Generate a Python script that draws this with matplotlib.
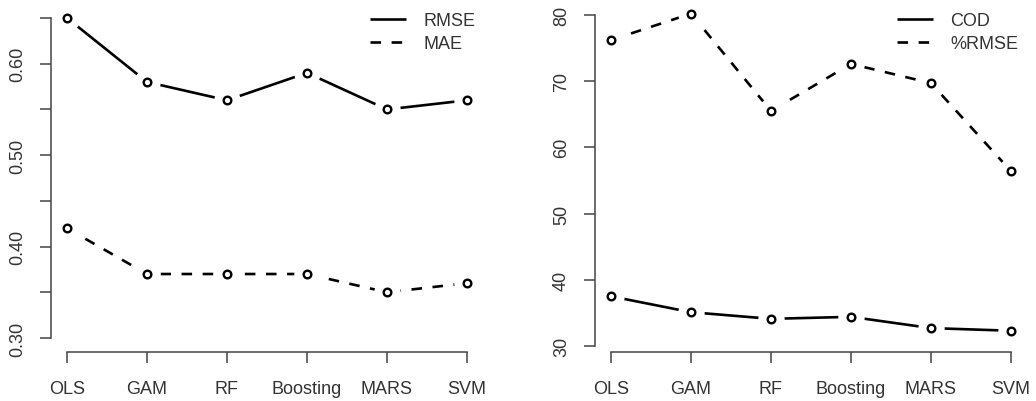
import matplotlib
matplotlib.use('Agg')
import matplotlib.pyplot as plt

plt.rcParams['font.family'] = ['Liberation Sans', 'DejaVu Sans']

# 数据
models = ['OLS', 'GAM', 'RF', 'Boosting', 'MARS', 'SVM']
rmse = [0.65, 0.58, 0.56, 0.59, 0.55, 0.56]
mae = [0.42, 0.37, 0.37, 0.37, 0.35, 0.36]
cod = [37.5, 35.1, 34.1, 34.4, 32.7, 32.3]
pct_rmse = [76.2, 80.2, 65.5, 72.6, 69.7, 56.4]

left_ticks = [0.30, 0.35, 0.40, 0.45, 0.50, 0.55, 0.60, 0.65]
left_labels = ['0.30', '', '0.40', '', '0.50', '', '0.60', '']
right_ticks = [30, 40, 50, 60, 70, 80]
right_labels = ['30', '40', '50', '60', '70', '80']

W, H = 1036, 402
axis_col = '#444444'
text_col = '#333333'
fs = 13


def px_box(x0, y0, x1, y1):
    """像素坐标 -> figure 坐标 [left, bottom, width, height]"""
    return [x0 / W, 1 - y1 / H, (x1 - x0) / W, (y1 - y0) / H]


def draw_series(ax, x, y, style, label):
    # R 里 type="b" 的效果：线在点附近断开（用白色大圆盖住）
    ax.plot(x, y, color='black', lw=1.9, linestyle=style,
            dashes=(4, 4) if style == '--' else (None, None), label=label,
            zorder=2, solid_capstyle='butt', dash_capstyle='butt')
    ax.plot(x, y, linestyle='none', marker='o', ms=19, mfc='white', mec='white', mew=0, zorder=3)
    ax.plot(x, y, linestyle='none', marker='o', ms=5.5, mfc='white', mec='black', mew=1.7, zorder=4)


def style_axes(ax, yticks, ylabels, ybounds):
    for s in ['top', 'right']:
        ax.spines[s].set_visible(False)
    for s in ['left', 'bottom']:
        ax.spines[s].set_color(axis_col)
        ax.spines[s].set_linewidth(1.1)
    ax.spines['left'].set_bounds(*ybounds)
    ax.spines['bottom'].set_bounds(1, 6)
    ax.set_xticks(range(1, 7))
    ax.set_xticklabels(models)
    ax.set_yticks(yticks)
    ax.set_yticklabels(ylabels, rotation=90, va='center')
    ax.tick_params(axis='both', length=8, width=1.1, color=axis_col,
                   labelcolor=text_col, labelsize=fs)
    ax.tick_params(axis='x', pad=12)
    ax.tick_params(axis='y', pad=10)


fig = plt.figure(figsize=(W / 100, H / 100), dpi=100)
x = list(range(1, 7))

# 左图：RMSE / MAE
ax1 = fig.add_axes(px_box(51, 6, 483, 353))
draw_series(ax1, x, rmse, '-', 'RMSE')
draw_series(ax1, x, mae, '--', 'MAE')
ax1.set_xlim(0.8, 6.2)
ax1.set_ylim(0.2847, 0.6642)
style_axes(ax1, left_ticks, left_labels, (0.30, 0.65))

# 右图：COD / %RMSE
ax2 = fig.add_axes(px_box(595, 6, 1027, 353))
draw_series(ax2, x, cod, '-', 'COD')
draw_series(ax2, x, pct_rmse, '--', '%RMSE')
ax2.set_xlim(0.8, 6.2)
ax2.set_ylim(29.09, 81.5)
style_axes(ax2, right_ticks, right_labels, (30, 80))

# 图例（无边框）
for ax, x0 in [(ax1, 370), (ax2, 897)]:
    h = ax.get_lines()
    leg = ax.legend([h[0], h[3]], [h[0].get_label(), h[3].get_label()],
                    loc='upper left', bbox_to_anchor=(x0 / W, 1 - 13 / H),
                    bbox_transform=fig.transFigure, frameon=False,
                    fontsize=fs, handlelength=2.0, handletextpad=0.95,
                    labelspacing=0.35, borderpad=0, borderaxespad=0)
    for t in leg.get_texts():
        t.set_color(text_col)

plt.savefig('out.png', dpi=100)
plt.close()
